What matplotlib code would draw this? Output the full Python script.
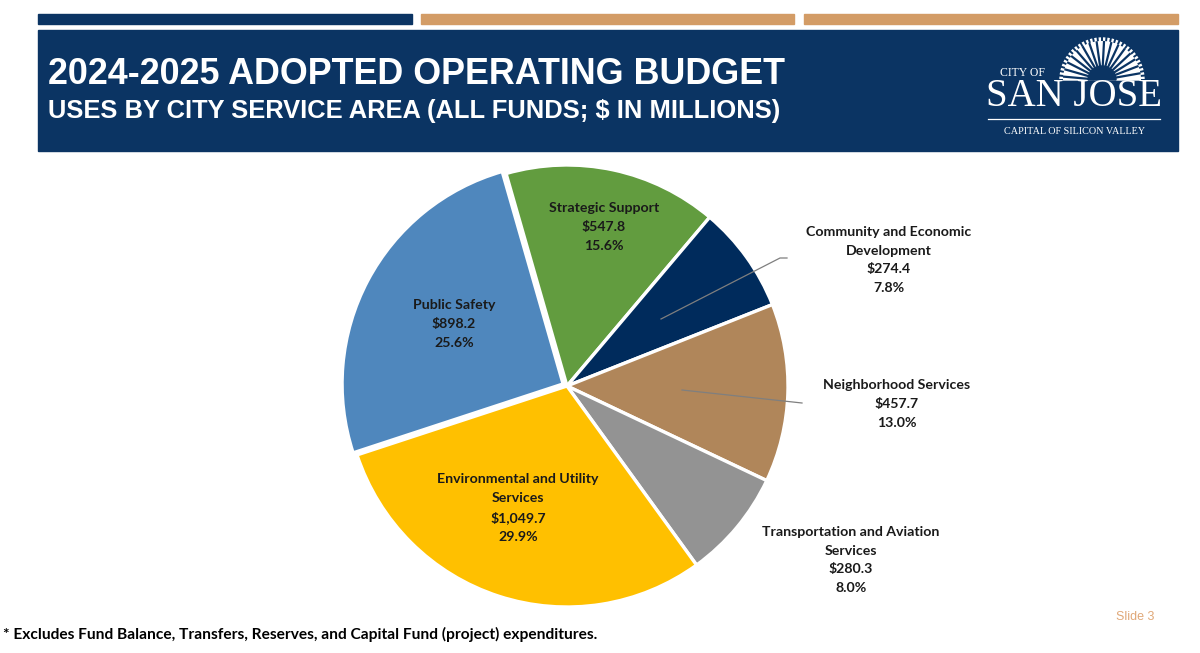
import numpy as np
import matplotlib
matplotlib.use("Agg")
import matplotlib.pyplot as plt
from matplotlib.patches import Rectangle, Wedge

# Data: uses by city service area, $ in millions (clockwise from top-left)
areas = ["Strategic Support",
         "Community and Economic\nDevelopment",
         "Neighborhood Services",
         "Transportation and Aviation\nServices",
         "Environmental and Utility\nServices",
         "Public Safety"]
amounts = [547.8, 274.4, 457.7, 280.3, 1049.7, 898.2]
colors = ["#629C3F", "#002B5C", "#B0865A", "#939393", "#FFC000", "#4F87BD"]

title = "2024-2025 ADOPTED OPERATING BUDGET"
subtitle = "USES BY CITY SERVICE AREA (ALL FUNDS; $ IN MILLIONS)"
footnote = "* Excludes Fund Balance, Transfers, Reserves, and Capital Fund (project) expenditures."

NAVY = "#0B3463"
TAN = "#D39C66"
LABEL_FONT = ["Lato", "DejaVu Sans"]

W, H = 1200, 653
fig = plt.figure(figsize=(W / 100, H / 100), dpi=100)

# pie axes: centre (567, 386) px, radius 221 px
cx, cy, r = 567, 386, 221
half = 235
ax = fig.add_axes([(cx - half) / W, (H - cy - half) / H, 2 * half / W, 2 * half / H])
explode = [0, 0, 0, 0, 0, 0.02]
ax.pie(amounts, colors=colors, startangle=106, counterclock=False, explode=explode,
       wedgeprops=dict(edgecolor="white", linewidth=2.4))
lim = half / r
ax.set_xlim(-lim, lim)
ax.set_ylim(-lim, lim)
ax.axis("off")

# overlay in pixel coordinates for header, labels and notes
ov = fig.add_axes([0, 0, 1, 1])
ov.set_xlim(0, W)
ov.set_ylim(H, 0)
ov.axis("off")

# header bars and title box
ov.add_patch(Rectangle((38, 14), 374, 10, color=NAVY))
ov.add_patch(Rectangle((421, 14), 373, 10, color=TAN))
ov.add_patch(Rectangle((804, 14), 374, 10, color=TAN))
ov.add_patch(Rectangle((38, 30), 1140, 121, color=NAVY))
ov.text(48, 75, title, color="white", fontsize=25.8, fontweight="bold",
        family="Liberation Sans", va="center", ha="left")
ov.text(48, 111, subtitle, color="white", fontsize=18.4, fontweight="bold",
        family="Liberation Sans", va="center", ha="left")

# logo: sun, wordmark
sx, sy = 1102, 80
ov.add_patch(Wedge((sx, sy), 42, 180, 360, color="white"))
for a in np.arange(185, 360, 11):
    t = np.deg2rad(a)
    ov.plot([sx + 9 * np.cos(t), sx + 38 * np.cos(t)],
            [sy + 9 * np.sin(t), sy + 38 * np.sin(t)], color=NAVY, lw=1.6)
for a in np.arange(180, 361, 6):
    t = np.deg2rad(a)
    ov.plot([sx + 40 * np.cos(t), sx + 43 * np.cos(t)],
            [sy + 40 * np.sin(t), sy + 43 * np.sin(t)], color=NAVY, lw=1.4)
ov.add_patch(Wedge((sx, sy), 14, 180, 360, color=NAVY))
ov.text(1023, 73, "CITY OF", color="white", fontsize=8.5, family="Liberation Serif",
        ha="center", va="center")
ov.text(1074, 97, "SAN JOSE", color="white", fontsize=28, family="Liberation Serif",
        ha="center", va="center")
ov.plot([988, 1160], [119, 119], color="white", lw=0.9)
ov.text(1074, 131, "CAPITAL OF SILICON VALLEY", color="white", fontsize=7.3,
        family="Liberation Serif", ha="center", va="center")

# slice labels
total = sum(amounts)
label_pos = [(604, 227), (889, 260), (897, 404), (851, 560), (518, 508), (454, 324)]
for name, val, (lx, ly) in zip(areas, amounts, label_pos):
    txt = f"{name}\n${val:,.1f}\n{val / total * 100:.1f}%"
    ov.text(lx, ly, txt, ha="center", va="center", fontsize=10.2, fontweight="bold",
            family=LABEL_FONT, color="#1a1a1a", linespacing=1.68)

# leader lines
ov.plot([661, 780, 787], [319, 258, 258], color="#7f7f7f", lw=0.9)
ov.plot([682, 802], [390, 403], color="#7f7f7f", lw=0.9)

ov.text(3, 634, footnote, ha="left", va="center", fontsize=11.2, fontweight="bold",
        family=LABEL_FONT, color="black")
ov.text(1154, 617, "Slide 3", ha="right", va="center", fontsize=9,
        family="Liberation Sans", color="#E0A878")

fig.savefig("out.png", dpi=100)
